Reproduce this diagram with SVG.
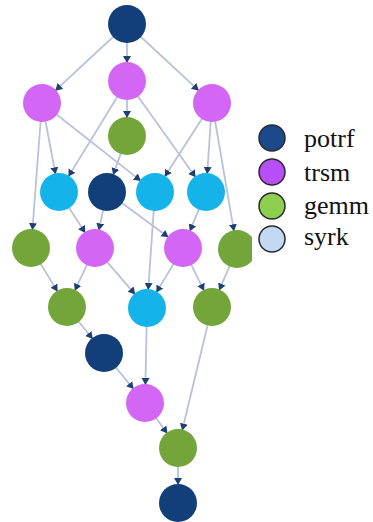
<svg xmlns="http://www.w3.org/2000/svg" width="373" height="522" viewBox="0 0 373 522">
<style>
.e{stroke:#b8c2d8;stroke-width:1.8;fill:none;marker-end:url(#ah)}
.potrf{fill:#123f7a}
.trsm{fill:#d466f6}
.gemm{fill:#74a53b}
.syrk{fill:#14b4ea}
.lg{stroke:#2a2a2a;stroke-width:1.5}
text{font-family:'Liberation Serif','Times New Roman',Times,serif;font-size:26px;fill:#111}
</style>
<defs>
<marker id="ah" markerUnits="userSpaceOnUse" markerWidth="9" markerHeight="9" refX="7" refY="4" orient="auto">
<path d="M0,0 L7,4 L0,8 z" fill="#1d3f72"/>
</marker>
<clipPath id="clipR"><rect x="0" y="0" width="252" height="522"/></clipPath>
</defs>
<rect width="373" height="522" fill="#ffffff"/>
<g id="connectors">
<line class="e" x1="127" y1="24" x2="55.2" y2="90.7"/>
<line class="e" x1="127" y1="24" x2="127" y2="63"/>
<line class="e" x1="127" y1="24" x2="198.8" y2="90.7"/>
<line class="e" x1="127" y1="81" x2="127" y2="118"/>
<line class="e" x1="42" y1="103" x2="55.6" y2="174.3"/>
<line class="e" x1="127" y1="81" x2="68.4" y2="176.6"/>
<line class="e" x1="42" y1="103" x2="140.9" y2="180.9"/>
<line class="e" x1="212" y1="103" x2="164.7" y2="176.8"/>
<line class="e" x1="127" y1="81" x2="195.6" y2="177.3"/>
<line class="e" x1="212" y1="103" x2="207.2" y2="174"/>
<line class="e" x1="42" y1="103" x2="32.4" y2="230.1"/>
<line class="e" x1="212" y1="103" x2="234" y2="231.3"/>
<line class="e" x1="127" y1="136" x2="113.1" y2="175.1"/>
<line class="e" x1="107" y1="192" x2="98.8" y2="230.4"/>
<line class="e" x1="59" y1="192" x2="85.3" y2="232.9"/>
<line class="e" x1="107" y1="192" x2="168.5" y2="237.3"/>
<line class="e" x1="206" y1="192" x2="189.8" y2="231.3"/>
<line class="e" x1="31" y1="248" x2="57.6" y2="291.6"/>
<line class="e" x1="95" y1="248" x2="74.7" y2="290.7"/>
<line class="e" x1="95" y1="248" x2="135.2" y2="294.4"/>
<line class="e" x1="183" y1="248" x2="156.3" y2="292.6"/>
<line class="e" x1="155" y1="192" x2="148.2" y2="290"/>
<line class="e" x1="183" y1="248" x2="204.1" y2="290.8"/>
<line class="e" x1="237" y1="249" x2="219.1" y2="290.5"/>
<line class="e" x1="67" y1="307" x2="92.7" y2="339"/>
<line class="e" x1="104" y1="353" x2="133.6" y2="389.1"/>
<line class="e" x1="147" y1="308" x2="145.4" y2="385"/>
<line class="e" x1="145" y1="403" x2="167.4" y2="433.5"/>
<line class="e" x1="212" y1="307" x2="182.2" y2="430.5"/>
<line class="e" x1="178" y1="448" x2="178" y2="485"/>
</g>
<g id="n_potrf0"><circle class="potrf" cx="127" cy="24" r="19"/></g>
<g id="n_trsmL"><circle class="trsm" cx="42" cy="103" r="19"/></g>
<g id="n_trsmM"><circle class="trsm" cx="127" cy="81" r="19"/></g>
<g id="n_trsmR"><circle class="trsm" cx="212" cy="103" r="19"/></g>
<g id="n_gemm1"><circle class="gemm" cx="127" cy="136" r="19"/></g>
<g id="n_syrk21"><circle class="syrk" cx="59" cy="192" r="19"/></g>
<g id="n_potrf1"><circle class="potrf" cx="107" cy="192" r="19"/></g>
<g id="n_syrk32"><circle class="syrk" cx="155" cy="192" r="19"/></g>
<g id="n_syrk31"><circle class="syrk" cx="206" cy="192" r="19"/></g>
<g id="n_gemm22"><circle class="gemm" cx="31" cy="248" r="19"/></g>
<g id="n_trsm21"><circle class="trsm" cx="95" cy="248" r="19"/></g>
<g id="n_trsm31"><circle class="trsm" cx="183" cy="248" r="19"/></g>
<g id="n_gemm33"><circle class="gemm" cx="237" cy="249" r="19" clip-path="url(#clipR)"/></g>
<g id="n_gemm22b"><circle class="gemm" cx="67" cy="307" r="19"/></g>
<g id="n_syrk32b"><circle class="syrk" cx="147" cy="308" r="19"/></g>
<g id="n_gemm33b"><circle class="gemm" cx="212" cy="307" r="19"/></g>
<g id="n_potrf2"><circle class="potrf" cx="104" cy="353" r="19"/></g>
<g id="n_trsm32"><circle class="trsm" cx="145" cy="403" r="19"/></g>
<g id="n_gemm33c"><circle class="gemm" cx="178" cy="448" r="19"/></g>
<g id="n_potrf3"><circle class="potrf" cx="178" cy="503" r="19"/></g>
<g id="legend">
<circle class="lg" cx="272" cy="138" r="13" fill="#1b4a8c"/>
<text x="304" y="147">potrf</text>
<circle class="lg" cx="272" cy="172" r="13" fill="#b84ef6"/>
<text x="304" y="181">trsm</text>
<circle class="lg" cx="272" cy="206" r="13" fill="#8ecf50"/>
<text x="304" y="214">gemm</text>
<circle class="lg" cx="272" cy="239" r="13" fill="#c3d9f3"/>
<text x="304" y="245">syrk</text>
</g>
</svg>
